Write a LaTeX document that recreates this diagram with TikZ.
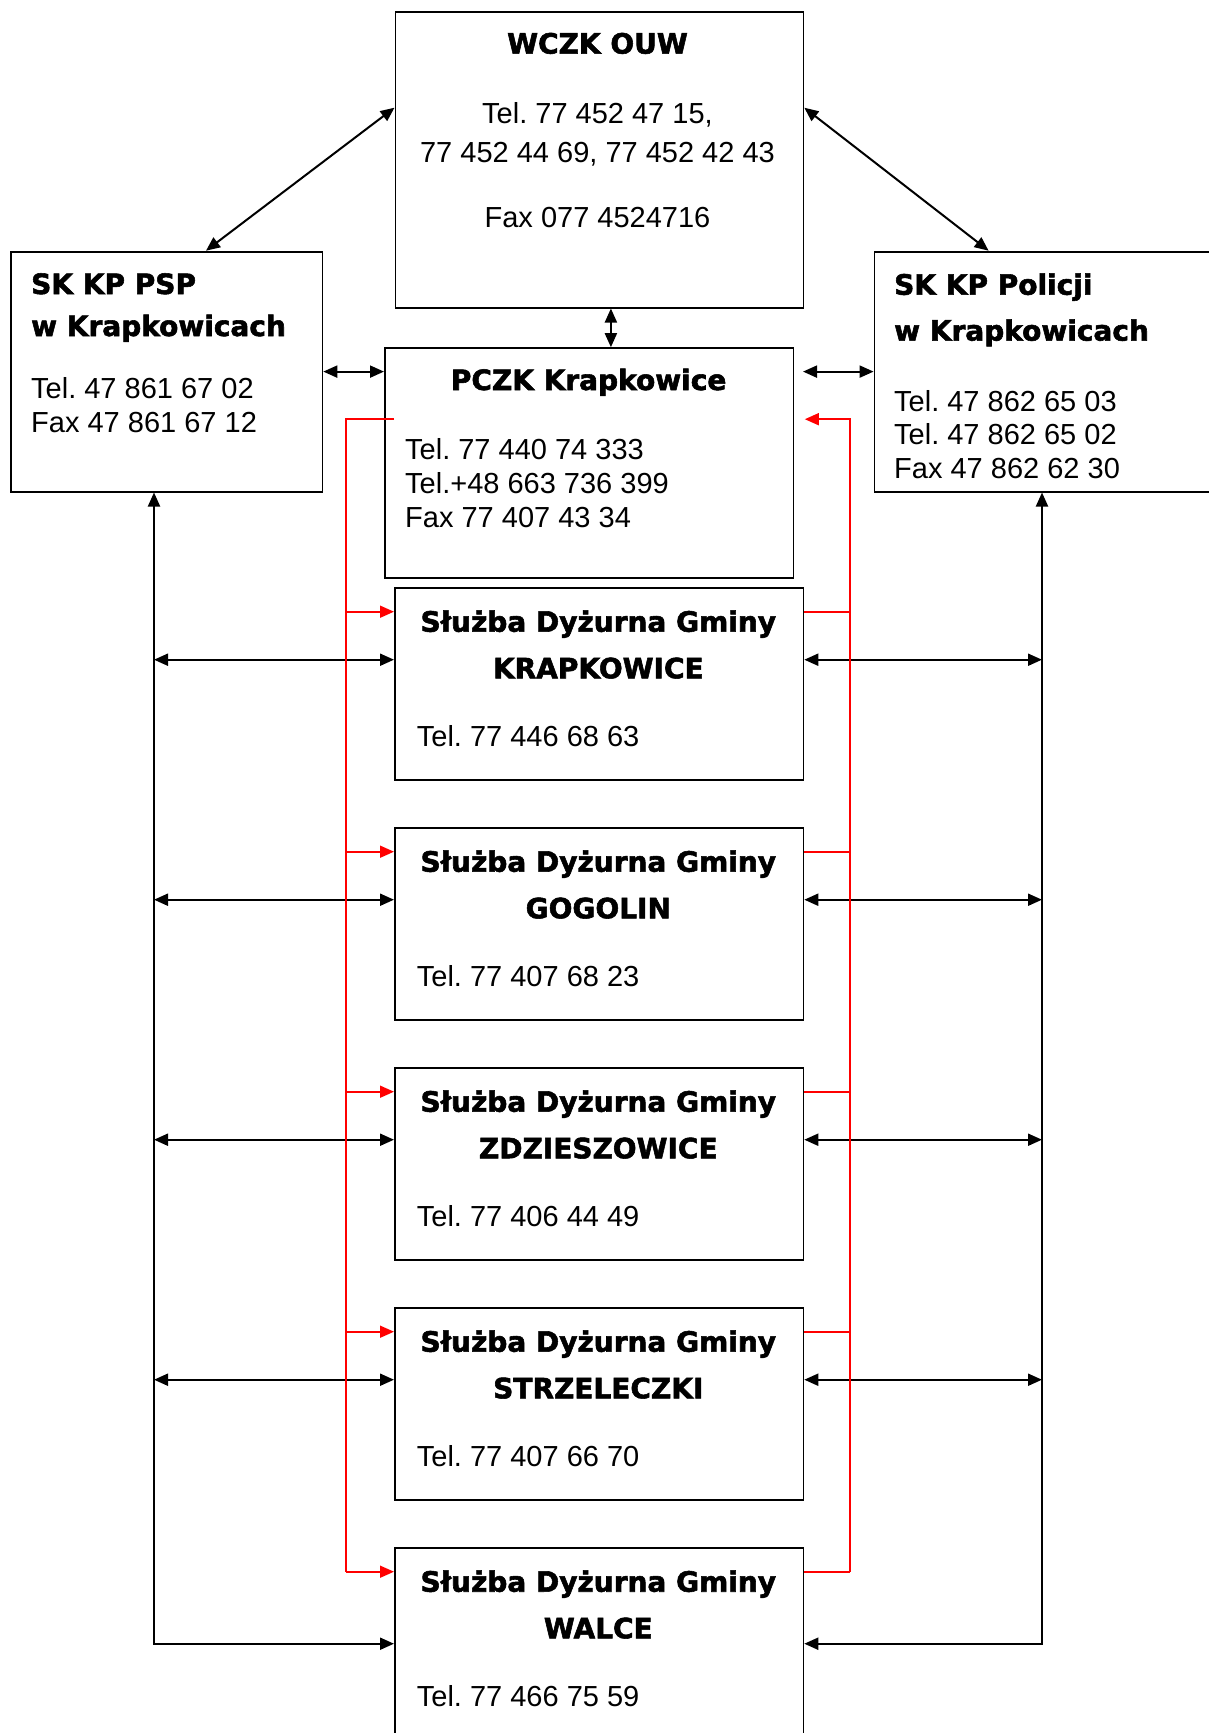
\documentclass[tikz,border=0pt]{standalone}
\usepackage{fontspec}
\setmainfont{Liberation Sans}
\newfontfamily\heavyfont{DejaVu Sans}[BoldFeatures={FakeBold=2}]
\usetikzlibrary{arrows.meta}
\frenchspacing
\begin{document}
\begin{tikzpicture}[x=1pt,y=-1pt,
  >={Triangle[length=14pt,width=12pt]},
  box/.style={draw, line width=1.8pt, anchor=north west, inner sep=0pt},
  txt/.style={inner sep=0pt, font=\fontsize{29}{34}\selectfont},
  hd/.style={inner sep=0pt, font=\heavyfont\bfseries\fontsize{28}{33}\selectfont},
  conn/.style={line width=2pt, black},
  redl/.style={line width=1.6pt, red}]
\useasboundingbox (0,0) rectangle (1209,1733);
\fill[white] (0,0) rectangle (1209,1733);

% boxes
\node[box, minimum width=408pt, minimum height=296pt] (wczk) at (394.5,10.7) {};
\node[box, minimum width=311.5pt, minimum height=240pt] (psp) at (10,250.7) {};
\node[box, minimum width=345pt, minimum height=240pt] (pol) at (873.6,250.7) {};
\node[box, minimum width=408.5pt, minimum height=229.5pt] (pczk) at (384,347.2) {};

% WCZK text
\node[hd, anchor=base] (wczkt) at (597.5,53.6) {WCZK OUW};
\node[txt, anchor=base] (wczk1) at (597.5,123.2) {Tel. 77 452 47 15,};
\node[txt, anchor=base] (wczk2) at (597.5,162.6) {77 452 44 69, 77 452 42 43};
\node[txt, anchor=base] (wczk3) at (597.5,227.7) {Fax 077 4524716};

% PSP text
\node[hd, anchor=base west] (pspt1) at (31,294) {SK KP PSP};
\node[hd, anchor=base west] (pspt2) at (31,336) {w Krapkowicach};
\node[txt, anchor=base west] (psp1) at (31,398.8) {Tel. 47 861 67 02};
\node[txt, anchor=base west] (psp2) at (31,432.4) {Fax 47 861 67 12};

% Policja text
\node[hd, anchor=base west] (polt1) at (894,294.7) {SK KP Policji};
\node[hd, anchor=base west] (polt2) at (894,340.6) {w Krapkowicach};
\node[txt, anchor=base west] (pol1) at (894,411.4) {Tel. 47 862 65 03};
\node[txt, anchor=base west] (pol2) at (894,444.7) {Tel. 47 862 65 02};
\node[txt, anchor=base west] (pol3) at (894,478.4) {Fax 47 862 62 30};

% PCZK text
\node[hd, anchor=base] (pczkt) at (588.6,390) {PCZK Krapkowice};
\node[txt, anchor=base west] (pczk1) at (405,459) {Tel. 77 440 74 333};
\node[txt, anchor=base west] (pczk2) at (405,493.3) {Tel.+48 663 736 399};
\node[txt, anchor=base west] (pczk3) at (405,527.3) {Fax 77 407 43 34};

% gmina boxes
\foreach \i/\t/\h/\n/\tel in {1/586.7/192.5/KRAPKOWICE/77 446 68 63,
                               2/826.7/192.5/GOGOLIN/77 407 68 23,
                               3/1066.7/192.5/ZDZIESZOWICE/77 406 44 49,
                               4/1306.7/192.5/STRZELECZKI/77 407 66 70,
                               5/1546.7/250/WALCE/77 466 75 59}{
  \node[box, minimum width=408.5pt, minimum height=\h pt] (g\i) at (394,\t) {};
  \node[hd, anchor=base] (g\i t) at (598.3,\t+45) {Służba Dyżurna Gminy};
  \node[hd, anchor=base] (g\i n) at (598.3,\t+91.6) {\n};
  \node[txt, anchor=base west] (g\i p) at (416.7,\t+160) {Tel. \tel};
}

% helper columns
\coordinate (lcol) at (154,0);
\coordinate (rcol) at (1042,0);
\coordinate (rl) at (346,0);
\coordinate (rr) at (850,0);
\coordinate (pcr) at (803,0);

% top connectors
\draw[conn,<->] ([yshift=-97pt]wczk.north west) -- ([xshift=196pt]psp.north west);
\draw[conn,<->] ([yshift=-97pt]wczk.north east) -- ([xshift=115pt]pol.north west);
\coordinate (vtop) at ([xshift=11.5pt]wczk.south);
\draw[conn,<->] (vtop) -- (vtop |- pczk.north);
\draw[conn,<->] (psp.east) -- (pczk.west |- psp.east);
\draw[conn,<->] (pcr |- pol.west) -- (pol.west);

% gmina black connectors
\foreach \i in {1,2,3,4}{
  \coordinate (g\i a) at ([yshift=-73pt]g\i.north west);
  \coordinate (g\i b) at ([yshift=-73pt]g\i.north east);
  \draw[conn,<->] (lcol |- g\i a) -- (g\i a);
  \draw[conn,<->] (g\i b) -- (rcol |- g\i b);
}
\coordinate (g5a) at ([yshift=-97pt]g5.north west);
\coordinate (g5b) at ([yshift=-97pt]g5.north east);
\draw[conn,<->] (lcol |- psp.south) -- (lcol |- g5a) -- (g5a);
\draw[conn,<->] (rcol |- pol.south) -- (rcol |- g5b) -- (g5b);

% red connectors
\coordinate (pl) at ([xshift=10pt,yshift=-72pt]pczk.north west);
\coordinate (pr) at ([xshift=10.5pt,yshift=-72pt]pczk.north east);
\foreach \i in {1,...,5}{
  \coordinate (g\i r) at ([yshift=-25pt]g\i.north west);
  \coordinate (g\i s) at ([yshift=-25pt]g\i.north east);
  \draw[redl,->] (rl |- g\i r) -- (g\i r);
  \draw[redl] (g\i s) -- (rr |- g\i s);
}
\draw[redl] (pl) -- (rl |- pl) -- (rl |- g5r);
\draw[redl,->] (rr |- g5s) -- (rr |- pr) -- (pr);
\end{tikzpicture}
\end{document}
